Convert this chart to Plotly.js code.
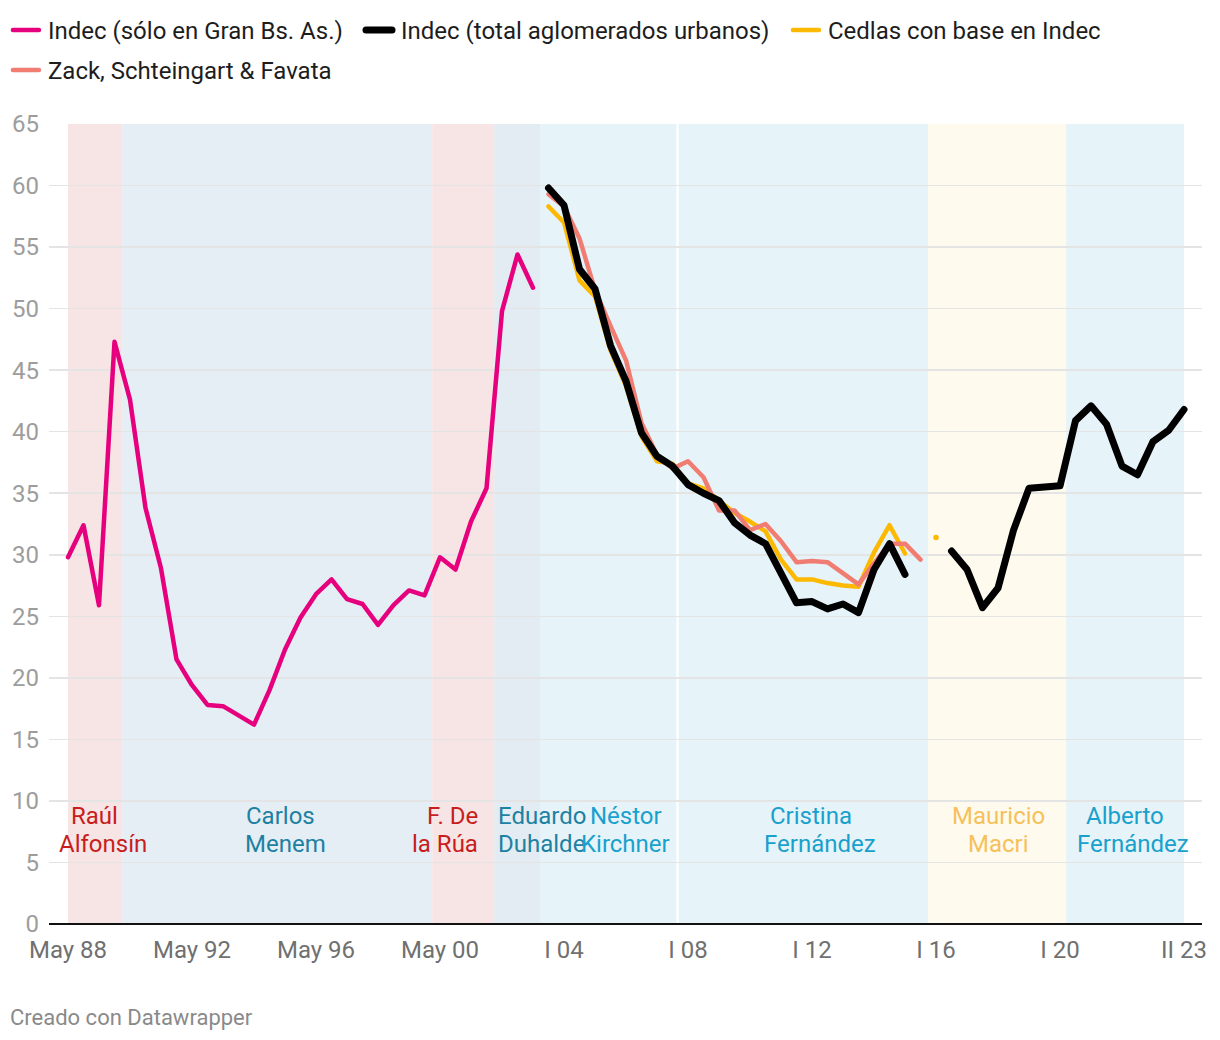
<!DOCTYPE html>
<html><head><meta charset="utf-8">
<script src="https://cdn.plot.ly/plotly-3.0.1.min.js"></script>
<style>
html,body{margin:0;padding:0;background:#fff;}
#chart{width:1220px;height:1040px;}
.js-line { stroke-linecap: round; stroke-linejoin: round; }
.legendlines path { stroke-linecap: round !important; stroke-dasharray: 26 200 !important; }
</style></head><body><div id="chart"></div>
<script>
// ---- DATA (semester index: 0 = May 88 ... 72 = II 23) ----
const indecGBAStart = 0;
const indecGBA = [29.8, 32.4, 25.9, 47.3, 42.6, 33.8, 28.9, 21.5, 19.4, 17.8, 17.7, 16.9, 16.2, 19.0, 22.3, 24.9,
  26.8, 28.0, 26.4, 26.0, 24.3, 25.9, 27.1, 26.7, 29.8, 28.8, 32.7, 35.4, 49.8, 54.4, 51.7];
const indecTotalStart = 31;
const indecTotal = [59.8, 58.4, 53.2, 51.6, 47.0, 44.1, 39.9, 38.0, 37.2, 35.7, 35.0, 34.4, 32.6, 31.6, 30.9, 28.5,
  26.1, 26.2, 25.6, 26.0, 25.3, 28.8, 30.9, 28.4, null, null, 30.3, 28.8, 25.7, 27.3, 32.0, 35.4, 35.5, 35.6,
  40.9, 42.1, 40.6, 37.2, 36.5, 39.2, 40.1, 41.8];
const cedlasStart = 31;
const cedlas = [58.3, 57.0, 52.3, 51.0, 46.6, 43.7, 39.6, 37.6, 37.4, 35.8, 35.4, 34.4, 33.4, 32.7, 31.9, 29.6,
  28.0, 28.0, 27.7, 27.5, 27.4, 30.2, 32.4, 30.1, null, 31.4];
const zackStart = 31;
const zack = [59.3, 58.3, 55.7, 51.5, 48.6, 45.8, 40.7, 38.1, 37.0, 37.6, 36.3, 33.6, 33.6, 32.0, 32.5, 31.1,
  29.4, 29.5, 29.4, 28.5, 27.6, 29.3, 30.9, 30.9, 29.6];
const seriesNames = ["Indec (sólo en Gran Bs. As.)", "Indec (total aglomerados urbanos)", "Cedlas con base en Indec", "Zack, Schteingart & Favata"];
const tickPositions = [0, 8, 16, 24, 32, 40, 48, 56, 64, 72];
const tickLabels = ["May 88", "May 92", "May 96", "May 00", "I 04", "I 08", "I 12", "I 16", "I 20", "II 23"];
const yTicks = [0, 5, 10, 15, 20, 25, 30, 35, 40, 45, 50, 55, 60, 65];
const presidents = [["Raúl", "Alfonsín"], ["Carlos", "Menem"], ["F. De", "la Rúa"], ["Eduardo", "Duhalde"],
  ["Néstor", "Kirchner"], ["Cristina", "Fernández"], ["Mauricio", "Macri"], ["Alberto", "Fernández"]];
const presidentStart = [0, 3.5, 23.5, 27.5, 30.45, 39.4, 55.5, 64.4];
const presidentEnd = [3.5, 23.5, 27.5, 30.45, 39.25, 55.5, 64.4, 72.0];

// ---- STYLE ----
const bandColors = ["#f7e4e4", "#e6eef5", "#f7e4e4", "#e3ebf3", "#e6f3f9", "#e6f3f9", "#fefbee", "#e6f3f9"];
const labelColors = ["#c71e1d", "#1d81a2", "#c71e1d", "#1d81a2", "#18a1cd", "#18a1cd", "#f6c05b", "#18a1cd"];
const labelPos = [
  [[1.74, "center"], [2.28, "center"]],
  [[13.71, "center"], [14.03, "center"]],
  [[26.61, "right"], [26.61, "right"]],
  [[27.64, "left"], [27.64, "left"]],
  [[35.97, "center"], [35.97, "center"]],
  [[47.95, "center"], [48.51, "center"]],
  [[60.0, "center"], [60.0, "center"]],
  [[68.21, "center"], [68.73, "center"]]
];
const labelY = [8.77, 6.54];

function xs(start, arr) { return arr.map((_, i) => start + i); }
function isolated(start, arr) {
  const x = [], y = [];
  arr.forEach((v, i) => {
    if (v !== null && (i === 0 || arr[i - 1] === null) && (i === arr.length - 1 || arr[i + 1] === null)) {
      x.push(start + i); y.push(v);
    }
  });
  return {x, y};
}

const cedIso = isolated(cedlasStart, cedlas);
const traces = [
  {x: xs(indecGBAStart, indecGBA), y: indecGBA, name: seriesNames[0], mode: "lines", legend: "legend",
   line: {color: "#e6007e", width: 4.5}},
  {x: xs(cedlasStart, cedlas), y: cedlas, name: seriesNames[2], mode: "lines", legend: "legend3",
   line: {color: "#fcb900", width: 4.5}},
  {x: cedIso.x, y: cedIso.y, name: seriesNames[2], mode: "markers", showlegend: false,
   marker: {color: "#fcb900", size: 5.5}},
  {x: xs(zackStart, zack), y: zack, name: seriesNames[3], mode: "lines", legend: "legend4",
   line: {color: "#f07c72", width: 4.5}},
  {x: xs(indecTotalStart, indecTotal), y: indecTotal, name: seriesNames[1], mode: "lines", legend: "legend2",
   line: {color: "#000000", width: 7}}
];

const shapes = presidents.map((p, i) => ({
  type: "rect", xref: "x", yref: "paper", x0: presidentStart[i], x1: presidentEnd[i], y0: 0, y1: 1,
  fillcolor: bandColors[i], line: {width: 0}, layer: "below"
}));

const annotations = [];
presidents.forEach((lines, i) => {
  lines.forEach((t, j) => {
    annotations.push({
      x: labelPos[i][j][0], y: labelY[j], xref: "x", yref: "y", text: t, showarrow: false,
      xanchor: labelPos[i][j][1], yanchor: "middle",
      font: {family: "Roboto", size: 24, color: labelColors[i]}
    });
  });
});
annotations.push({
  x: -0.0355, y: -0.11625, xref: "paper", yref: "paper", text: "Creado con Datawrapper", showarrow: false,
  xanchor: "left", yanchor: "middle", font: {family: "Roboto", size: 22, color: "#8a8a8a"}
});

function legendAt(x, y) {
  return {orientation: "h", x: x, y: y, xanchor: "left", yanchor: "top", itemwidth: 30,
    font: {family: "Roboto", size: 24, color: "#1d1d1d"}, bgcolor: "rgba(0,0,0,0)", borderwidth: 0};
}

const layout = {
  width: 1220, height: 1040,
  margin: {l: 49, r: 18, t: 124, b: 116, autoexpand: false},
  paper_bgcolor: "#ffffff", plot_bgcolor: "rgba(0,0,0,0)",
  font: {family: "Roboto", size: 24, color: "#222"},
  showlegend: true,
  legend: legendAt(-0.0356, 1.145),
  legend2: legendAt(0.2706, 1.145),
  legend3: legendAt(0.6409, 1.145),
  legend4: legendAt(-0.0356, 1.095),
  xaxis: {range: [-1.226, 73.16], tickvals: tickPositions, ticktext: tickLabels, showgrid: false,
    zeroline: false, showline: false, ticks: "", automargin: false, ticklabelstandoff: 9,
    tickfont: {family: "Roboto", size: 24, color: "#707070"}, fixedrange: true},
  yaxis: {range: [0, 65], tickvals: yTicks, showgrid: true, gridcolor: "#e4e4e4", gridwidth: 1.5,
    zeroline: true, zerolinecolor: "#111", zerolinewidth: 2, ticks: "", showline: false, automargin: false,
    ticklabelstandoff: 9, tickfont: {family: "Roboto", size: 24, color: "#9d9d9d"}, fixedrange: true},
  shapes: shapes,
  annotations: annotations,
  hovermode: false
};

Plotly.newPlot("chart", traces, layout, {displayModeBar: false, staticPlot: true});
</script></body></html>
